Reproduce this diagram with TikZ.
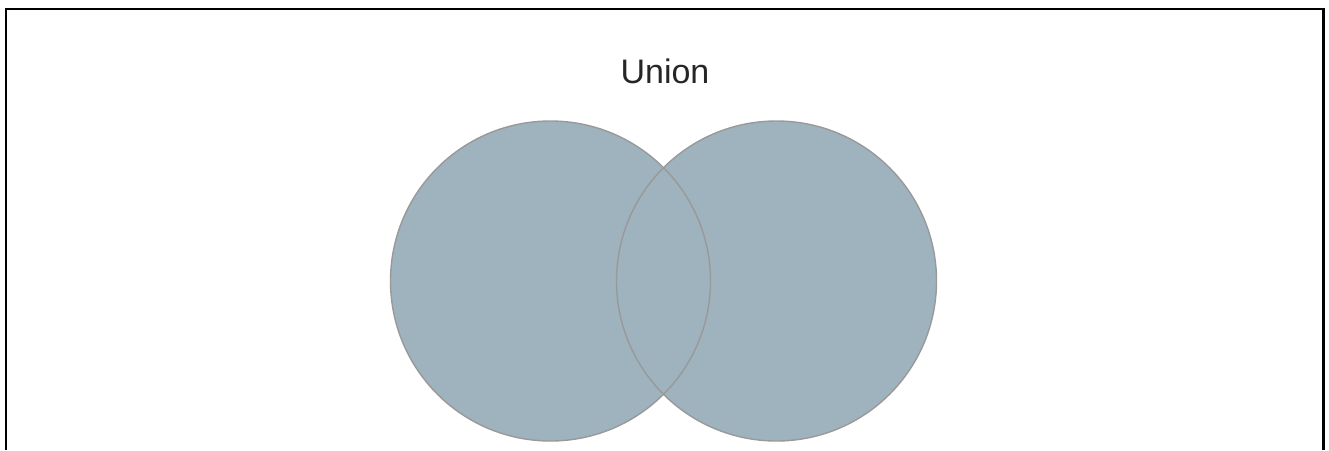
\documentclass[tikz,border=0pt]{standalone}
\usepackage{fontspec}
\setmainfont{Liberation Sans}
\usepackage{xcolor}
\usepackage{tikz}
\definecolor{setFill}{HTML}{9EB3BD}
\definecolor{setEdge}{HTML}{999999}
\tikzset{
  setcircle/.style={circle,minimum size=320pt,inner sep=0pt},
}

\begin{document}
\begin{tikzpicture}[x=1pt,y=-1pt]
  \useasboundingbox (0,0) rectangle (1329,450);
  \draw[black,line width=2.4pt] (6,450) -- (6,9) -- (1323.5,9) -- (1323.5,450);
  \node[anchor=base,font=\fontsize{34}{40}\selectfont,text=black!85] (title) at (665,83) {Union};
  % the two sets
  \node[setcircle,fill=setFill] (setA) at (550.5,281) {};
  \node[setcircle,fill=setFill] (setB) at (776.5,281) {};
  \node[setcircle,draw=setEdge,line width=1.4pt] at (setA.center) {};
  \node[setcircle,draw=setEdge,line width=1.4pt] at (setB.center) {};
\end{tikzpicture}
\end{document}
